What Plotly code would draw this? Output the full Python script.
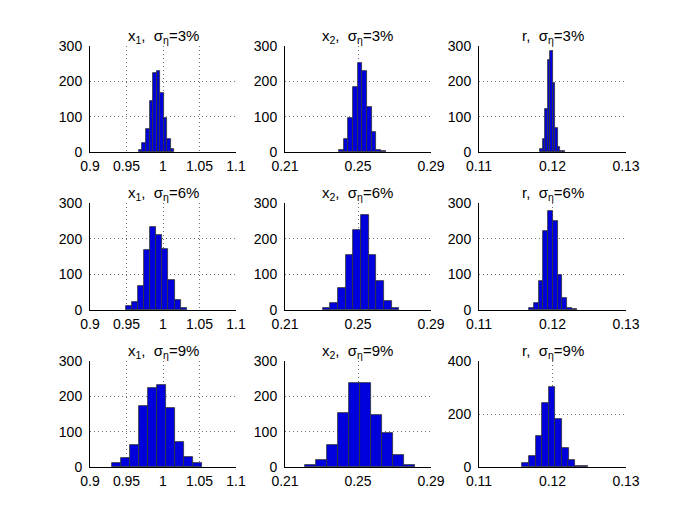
from plotly.subplots import make_subplots
import plotly.graph_objects as go

# bin centres and counts (1000 draws each)
x1_3_centers = [0.9695, 0.9743, 0.9792, 0.9840, 0.9889, 0.9937, 0.9985, 1.0034, 1.0082, 1.0131]
x1_3_counts = [5, 25, 66, 143, 225, 228, 166, 95, 38, 8]
x2_3_centers = [0.2409, 0.2435, 0.2460, 0.2486, 0.2511, 0.2537, 0.2563, 0.2588, 0.2614, 0.2640]
x2_3_counts = [7, 38, 96, 183, 251, 229, 128, 56, 7, 2]
r_3_centers = [0.11847, 0.11881, 0.11915, 0.11949, 0.11983, 0.12017, 0.12051, 0.12085, 0.12119, 0.12153]
r_3_counts = [9, 38, 121, 260, 285, 195, 68, 14, 3, 2]

x1_6_centers = [0.9531, 0.9615, 0.9698, 0.9782, 0.9866, 0.9949, 1.0033, 1.0117, 1.0200, 1.0284]
x1_6_counts = [11, 22, 66, 169, 234, 210, 171, 83, 27, 7]
x2_6_centers = [0.2327, 0.2369, 0.2411, 0.2453, 0.2495, 0.2537, 0.2579, 0.2621, 0.2663, 0.2705]
x2_6_counts = [6, 19, 63, 154, 224, 266, 155, 80, 25, 5]
r_6_centers = [0.11714, 0.11779, 0.11843, 0.11908, 0.11972, 0.12037, 0.12101, 0.12166, 0.12230, 0.12295]
r_6_counts = [6, 20, 81, 221, 278, 250, 98, 35, 7, 2]

x1_9_centers = [0.9367, 0.9489, 0.9612, 0.9734, 0.9857, 0.9979, 1.0102, 1.0224, 1.0346, 1.0469]
x1_9_counts = [10, 26, 61, 172, 223, 231, 167, 70, 28, 10]
x2_9_centers = [0.2241, 0.2301, 0.2361, 0.2421, 0.2481, 0.2541, 0.2601, 0.2661, 0.2721, 0.2781]
x2_9_counts = [5, 20, 63, 152, 237, 237, 146, 96, 34, 5]
r_9_centers = [0.11636, 0.11725, 0.11815, 0.11904, 0.11994, 0.12083, 0.12173, 0.12262, 0.12352, 0.12441]
r_9_counts = [15, 40, 118, 240, 301, 181, 70, 25, 5, 2]

bin_widths = [
    [0.00484, 0.00256, 0.00034],
    [0.00836, 0.0042, 0.000645],
    [0.01224, 0.006, 0.000895],
]

variables = ["x<sub>1</sub>", "x<sub>2</sub>", "r"]
noise_levels = ["3%", "6%", "9%"]

x_ticks = [
    [0.9, 0.95, 1, 1.05, 1.1],
    [0.21, 0.25, 0.29],
    [0.11, 0.12, 0.13],
]
x_tick_text = [
    ["0.9", "0.95", "1", "1.05", "1.1"],
    ["0.21", "0.25", "0.29"],
    ["0.11", "0.12", "0.13"],
]
y_ticks_default = [0, 100, 200, 300]
y_ticks_r9 = [0, 200, 400]

panels = [
    [(x1_3_centers, x1_3_counts), (x2_3_centers, x2_3_counts), (r_3_centers, r_3_counts)],
    [(x1_6_centers, x1_6_counts), (x2_6_centers, x2_6_counts), (r_6_centers, r_6_counts)],
    [(x1_9_centers, x1_9_counts), (x2_9_centers, x2_9_counts), (r_9_centers, r_9_counts)],
]

W, H = 692, 526
# the page body adds an 8px offset, so panel boxes are placed 8px up/left
col_px = [(82, 228), (277, 423), (471, 618)]
row_px = [(38, 144), (195, 302), (353, 459)]

font = dict(family="Liberation Sans, Arial, sans-serif", size=14, color="black")
grid = dict(showgrid=True, gridcolor="#707070", griddash="1px,3px", gridwidth=1)

fig = make_subplots(rows=3, cols=3)

for i in range(3):
    for j in range(3):
        centers, counts = panels[i][j]
        fig.add_trace(
            go.Bar(
                x=centers,
                y=counts,
                width=bin_widths[i][j],
                marker=dict(color="rgb(0,0,220)", line=dict(color="rgb(50,50,50)", width=0.8)),
                showlegend=False,
            ),
            row=i + 1,
            col=j + 1,
        )

        x0, x1 = col_px[j]
        y0, y1 = row_px[i]
        xdom = [x0 / W, x1 / W]
        ydom = [1 - y1 / H, 1 - y0 / H]

        ticks = x_ticks[j]
        fig.update_xaxes(
            domain=xdom,
            range=[ticks[0], ticks[-1]],
            tickvals=ticks,
            ticktext=x_tick_text[j],
            showline=True,
            linecolor="black",
            linewidth=1,
            zeroline=False,
            ticks="",
            ticklabelstandoff=1,
            automargin=False,
            tickfont=font,
            row=i + 1,
            col=j + 1,
            **grid,
        )

        yt = y_ticks_r9 if (i == 2 and j == 2) else y_ticks_default
        fig.update_yaxes(
            domain=ydom,
            range=[yt[0], yt[-1]],
            tickvals=yt,
            showline=True,
            linecolor="black",
            linewidth=1,
            zeroline=False,
            ticks="",
            ticklabelstandoff=4,
            automargin=False,
            tickfont=font,
            row=i + 1,
            col=j + 1,
            **grid,
        )

        fig.add_annotation(
            text=f"{variables[j]},  σ<sub>η</sub>=" + noise_levels[i],
            x=(xdom[0] + xdom[1]) / 2,
            y=ydom[1],
            xref="paper",
            yref="paper",
            xanchor="center",
            yanchor="bottom",
            yshift=-2,
            showarrow=False,
            font=dict(family=font["family"], size=15, color="black"),
        )

fig.update_layout(
    width=W,
    height=H,
    margin={"l": 0, "r": 0, "t": 0, "b": 0, "autoexpand": False},
    plot_bgcolor="white",
    paper_bgcolor="white",
    bargap=0,
    font=font,
)

fig.write_html("out.html")
